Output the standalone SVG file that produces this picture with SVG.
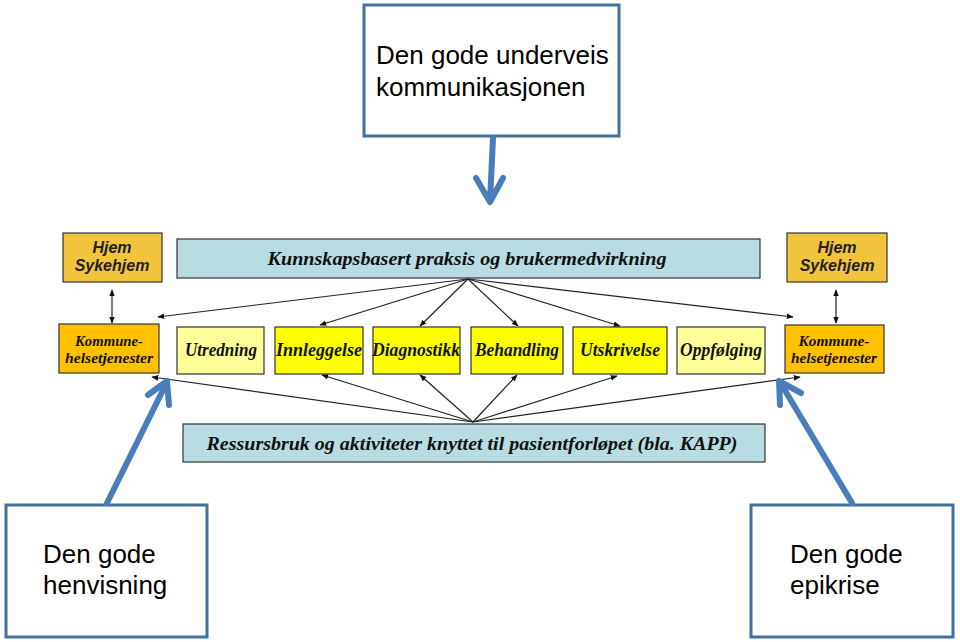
<svg xmlns="http://www.w3.org/2000/svg" width="960" height="642" viewBox="0 0 960 642">
<style>
.call{fill:#fff;stroke:#41719C;stroke-width:3}
.ct{font-family:"Liberation Sans",Arial,sans-serif;font-size:26px;fill:#000}
.hj{fill:#F2C43D;stroke:#333;stroke-width:1.2}
.km{fill:#FFC000;stroke:#333;stroke-width:1.2}
.ly{fill:#FFFF99;stroke:#333;stroke-width:1.2}
.yy{fill:#FFFF00;stroke:#333;stroke-width:1.2}
.tl{fill:#B7DDE3;stroke:#333;stroke-width:1.2}
.sans{font-family:"Liberation Sans",Arial,sans-serif;font-weight:bold;font-style:italic;font-size:16px;fill:#222;text-anchor:middle}
.ser{font-family:"Liberation Serif","Times New Roman",serif;font-weight:bold;font-style:italic;fill:#111;text-anchor:middle}
.con{stroke:#222;stroke-width:1.2;fill:none;marker-end:url(#ah)}
.blue{stroke:#4A7EBB;stroke-width:6;fill:none;stroke-linecap:round;stroke-linejoin:round}
</style>
<defs>
<marker id="ah" viewBox="0 0 10 10" refX="9" refY="5" markerWidth="7" markerHeight="7" orient="auto-start-reverse" markerUnits="userSpaceOnUse">
<path d="M0,1 L10,5 L0,9 z" fill="#111"/>
</marker>
</defs>

<g id="callout-top">
<rect class="call" x="364" y="5" width="255" height="131"/>
<text class="ct" x="376" y="64">Den gode underveis</text>
<text class="ct" x="376" y="96">kommunikasjonen</text>
</g>
<g id="callout-left">
<rect class="call" x="6" y="505" width="201" height="132"/>
<text class="ct" x="43" y="563">Den gode</text>
<text class="ct" x="43" y="594">henvisning</text>
</g>
<g id="callout-right">
<rect class="call" x="751" y="505" width="202" height="132"/>
<text class="ct" x="790" y="563">Den gode</text>
<text class="ct" x="790" y="594">epikrise</text>
</g>

<g id="hjem-left">
<rect class="hj" x="63" y="233" width="99" height="49"/>
<text class="sans" x="112" y="253">Hjem</text>
<text class="sans" x="112" y="271">Sykehjem</text>
</g>
<g id="hjem-right">
<rect class="hj" x="787" y="233" width="100" height="49"/>
<text class="sans" x="837" y="253">Hjem</text>
<text class="sans" x="837" y="271">Sykehjem</text>
</g>
<g id="kunnskap">
<rect class="tl" x="177" y="239" width="583" height="39"/>
<text class="ser" x="467" y="265" font-size="19" textLength="399" lengthAdjust="spacingAndGlyphs">Kunnskapsbasert praksis og brukermedvirkning</text>
</g>
<g id="kommune-left">
<rect class="km" x="59" y="324" width="100" height="49"/>
<text class="ser" x="109" y="346" font-size="14" textLength="68" lengthAdjust="spacingAndGlyphs">Kommune-</text>
<text class="ser" x="109" y="363" font-size="14" textLength="88" lengthAdjust="spacingAndGlyphs">helsetjenester</text>
</g>
<g id="utredning">
<rect class="ly" x="177" y="327" width="87" height="47"/>
<text class="ser" x="221" y="356" font-size="18" textLength="72" lengthAdjust="spacingAndGlyphs">Utredning</text>
</g>
<g id="innleggelse">
<rect class="yy" x="275" y="327" width="88" height="47"/>
<text class="ser" x="319" y="356" font-size="18" textLength="86" lengthAdjust="spacingAndGlyphs">Innleggelse</text>
</g>
<g id="diagnostikk">
<rect class="yy" x="373" y="327" width="87" height="47"/>
<text class="ser" x="416" y="356" font-size="18" textLength="88" lengthAdjust="spacingAndGlyphs">Diagnostikk</text>
</g>
<g id="behandling">
<rect class="yy" x="471" y="327" width="92" height="47"/>
<text class="ser" x="517" y="356" font-size="18" textLength="84" lengthAdjust="spacingAndGlyphs">Behandling</text>
</g>
<g id="utskrivelse">
<rect class="yy" x="573" y="327" width="94" height="47"/>
<text class="ser" x="620" y="356" font-size="18" textLength="80" lengthAdjust="spacingAndGlyphs">Utskrivelse</text>
</g>
<g id="oppfolging">
<rect class="ly" x="677" y="327" width="88" height="47"/>
<text class="ser" x="721" y="356" font-size="18" textLength="82" lengthAdjust="spacingAndGlyphs">Oppfølging</text>
</g>
<g id="kommune-right">
<rect class="km" x="785" y="325" width="99" height="48"/>
<text class="ser" x="834" y="346" font-size="14" textLength="71" lengthAdjust="spacingAndGlyphs">Kommune-</text>
<text class="ser" x="834" y="363" font-size="14" textLength="86" lengthAdjust="spacingAndGlyphs">helsetjenester</text>
</g>
<g id="ressurs">
<rect class="tl" x="183" y="424" width="582" height="38"/>
<text class="ser" x="472" y="450" font-size="19" textLength="531" lengthAdjust="spacingAndGlyphs">Ressursbruk og aktiviteter knyttet til pasientforløpet (bla. KAPP)</text>
</g>

<g id="connectors">
<line class="con" x1="468" y1="279" x2="158" y2="317"/>
<line class="con" x1="468" y1="279" x2="320" y2="325"/>
<line class="con" x1="468" y1="279" x2="420" y2="326"/>
<line class="con" x1="468" y1="279" x2="518" y2="326"/>
<line class="con" x1="468" y1="279" x2="620" y2="326"/>
<line class="con" x1="468" y1="279" x2="793" y2="317"/>
<line class="con" x1="473" y1="422" x2="152" y2="377"/>
<line class="con" x1="473" y1="422" x2="322" y2="375"/>
<line class="con" x1="473" y1="422" x2="420" y2="375"/>
<line class="con" x1="473" y1="422" x2="517" y2="375"/>
<line class="con" x1="473" y1="422" x2="617" y2="376"/>
<line class="con" x1="473" y1="422" x2="800" y2="377"/>
<line class="con" x1="112" y1="290" x2="112" y2="323" marker-start="url(#ah)"/>
<line class="con" x1="836" y1="290" x2="836" y2="323" marker-start="url(#ah)"/>
<path class="blue" d="M493,138 L490,201 M476,178 L490,202 L503,178"/>
<path class="blue" d="M107,503 L167,382 M148,395 L167,381 L169,405"/>
<path class="blue" d="M852,503 L780,382 M780,405 L779,381 L801,393"/>
</g>
</svg>
